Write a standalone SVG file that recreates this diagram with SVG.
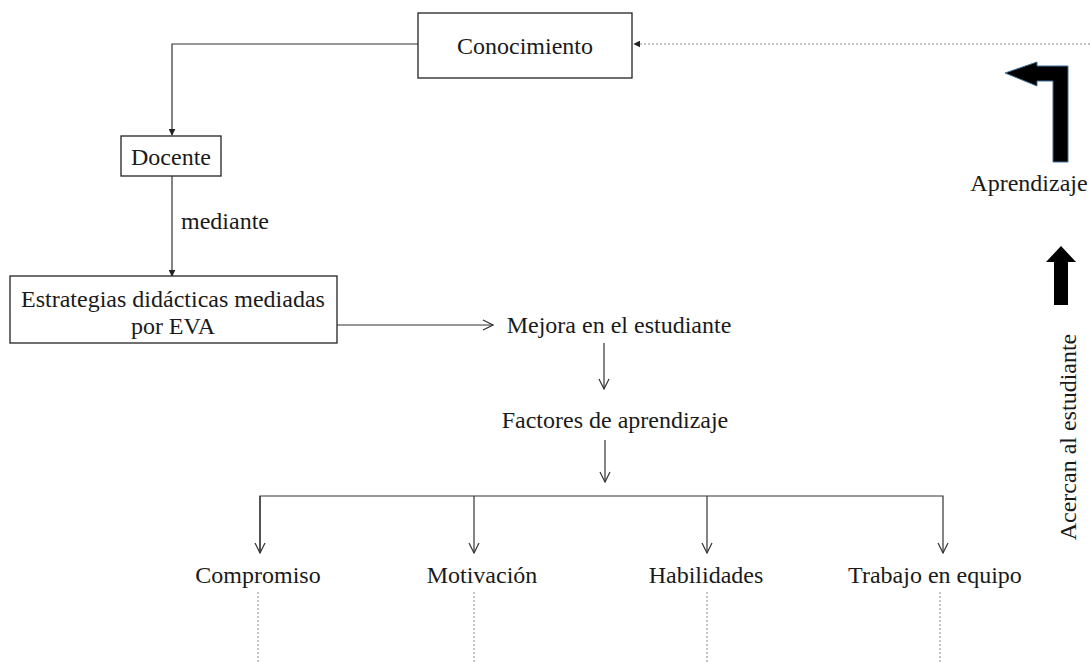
<svg xmlns="http://www.w3.org/2000/svg" width="1090" height="662" viewBox="0 0 1090 662">
<defs>
<style>
text{font-family:"Liberation Serif","Times New Roman",serif;font-size:24px;fill:#1a1a1a}
.box{fill:#fff;stroke:#222;stroke-width:1.3}
.ln{fill:none;stroke:#333;stroke-width:1.2}
.dot{fill:none;stroke:#888;stroke-width:1;stroke-dasharray:2 2}
</style>
<marker id="tri" viewBox="0 0 10 10" refX="9" refY="5" markerWidth="7" markerHeight="7" orient="auto" markerUnits="userSpaceOnUse">
<path d="M0,0 L10,5 L0,10 z" fill="#222"/>
</marker>
<marker id="chev" viewBox="0 0 12 12" refX="11" refY="6" markerWidth="12" markerHeight="12" orient="auto" markerUnits="userSpaceOnUse">
<path d="M1,1 L11,6 L1,11" fill="none" stroke="#333" stroke-width="1.2"/>
</marker>
</defs>
<rect width="1090" height="662" fill="#fff"/>

<g id="connectors">
<polyline class="ln" points="418,44 172,44 172,135" marker-end="url(#tri)" stroke="#666"/>
<line class="ln" x1="172" y1="176" x2="172" y2="276" marker-end="url(#tri)"/>
<line class="dot" x1="1090" y1="44" x2="634" y2="44" marker-end="url(#tri)"/>
<line class="ln" x1="337" y1="325" x2="493" y2="325" marker-end="url(#chev)"/>
<line class="ln" x1="604" y1="343" x2="604" y2="389" marker-end="url(#chev)"/>
<line class="ln" x1="605" y1="440" x2="605" y2="482" marker-end="url(#chev)"/>
<polyline class="ln" points="260,553 260,496 943,496 943,553" marker-end="url(#chev)" marker-start="none"/>
<line class="ln" x1="260" y1="496" x2="260" y2="553" marker-end="url(#chev)"/>
<line class="ln" x1="474" y1="496" x2="474" y2="553" marker-end="url(#chev)"/>
<line class="ln" x1="707" y1="496" x2="707" y2="553" marker-end="url(#chev)"/>
<line class="dot" x1="258" y1="592" x2="258" y2="662"/>
<line class="dot" x1="474" y1="592" x2="474" y2="662"/>
<line class="dot" x1="707" y1="592" x2="707" y2="662"/>
<line class="dot" x1="940" y1="592" x2="940" y2="662"/>
<text x="181" y="229">mediante</text>
</g>

<g id="conocimiento">
<rect class="box" x="418" y="13" width="214" height="65"/>
<text x="525" y="54" text-anchor="middle">Conocimiento</text>
</g>

<g id="docente">
<rect class="box" x="121" y="136" width="100" height="40"/>
<text x="171" y="165" text-anchor="middle">Docente</text>
</g>

<g id="estrategias">
<rect class="box" x="10" y="276" width="327" height="67"/>
<text x="173" y="307" text-anchor="middle">Estrategias didácticas mediadas</text>
<text x="173" y="334" text-anchor="middle">por EVA</text>
</g>

<g id="mejora">
<text x="619" y="333" text-anchor="middle">Mejora en el estudiante</text>
</g>

<g id="factores">
<text x="615" y="428" text-anchor="middle">Factores de aprendizaje</text>
</g>

<g id="compromiso"><text x="258" y="583" text-anchor="middle">Compromiso</text></g>
<g id="motivacion"><text x="482" y="583" text-anchor="middle">Motivación</text></g>
<g id="habilidades"><text x="706" y="583" text-anchor="middle">Habilidades</text></g>
<g id="trabajo"><text x="935" y="583" text-anchor="middle">Trabajo en equipo</text></g>

<g id="aprendizaje">
<path d="M1005,73 L1037,62 L1037,66 L1068,66 L1068,162 L1053,162 L1053,81 L1037,81 L1037,86 Z" fill="#000" stroke="#41719c" stroke-width="1"/>
<text x="1029" y="191" text-anchor="middle">Aprendizaje</text>
</g>

<g id="acercan">
<path d="M1061,246 L1076,262 L1068,262 L1068,305 L1054,305 L1054,262 L1046,262 Z" fill="#000"/>
<text transform="translate(1076,437) rotate(-90)" text-anchor="middle">Acercan al estudiante</text>
</g>
</svg>
